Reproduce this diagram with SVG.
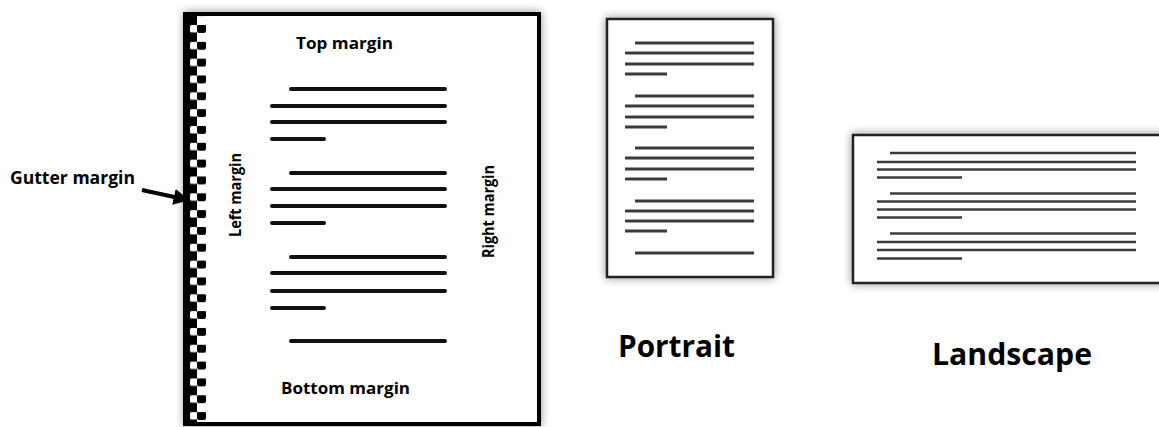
<svg xmlns="http://www.w3.org/2000/svg" width="1159" height="427" viewBox="0 0 1159 427">
<style>
  .lbl { font-family: "Open Sans", "Liberation Sans", sans-serif; font-weight: bold; fill: #000; }
  .ml { stroke: #111; stroke-width: 4; stroke-linecap: round; fill: none; }
  .pl { stroke: #3a3a3a; stroke-width: 3; stroke-linecap: butt; fill: none; }
  .ll { stroke: #3a3a3a; stroke-width: 2.6; stroke-linecap: butt; fill: none; }
  .conn { stroke: #000; stroke-width: 4; fill: none; }
</style>
<defs>
  <filter id="shadow" x="-10%" y="-10%" width="120%" height="120%">
    <feGaussianBlur in="SourceAlpha" stdDeviation="5"/>
    <feComponentTransfer><feFuncA type="linear" slope="0.45"/></feComponentTransfer>
    <feMerge><feMergeNode/><feMergeNode in="SourceGraphic"/></feMerge>
  </filter>
  <pattern id="gutter" x="0" y="25" width="30" height="16.83" patternUnits="userSpaceOnUse">
    <rect x="10" y="0" width="7.5" height="7.5" rx="1.5" fill="#fff"/>
    <rect x="17" y="-0.5" width="9" height="8.5" rx="2" fill="#000"/>
  </pattern>
  <marker id="ah" viewBox="0 0 10 10" refX="9" refY="5" markerWidth="4" markerHeight="4" orient="auto" markerUnits="strokeWidth">
    <path d="M0,0 L10,5 L0,10 Z" fill="#000"/>
  </marker>
</defs>
<rect width="1159" height="427" fill="#fff"/>

<g id="main-page">
  <rect x="186" y="14" width="353" height="410" fill="#fff" stroke="#000" stroke-width="4" filter="url(#shadow)"/>
  <rect x="183" y="12" width="14" height="414" fill="#000"/>
  <rect x="180" y="16" width="30" height="406" fill="url(#gutter)"/>
  <line class="ml" x1="291" y1="89" x2="445" y2="89"/>
  <line class="ml" x1="272" y1="106" x2="445" y2="106"/>
  <line class="ml" x1="272" y1="122" x2="445" y2="122"/>
  <line class="ml" x1="272" y1="139" x2="324" y2="139"/>
  <line class="ml" x1="291" y1="173" x2="445" y2="173"/>
  <line class="ml" x1="272" y1="189" x2="445" y2="189"/>
  <line class="ml" x1="272" y1="206" x2="445" y2="206"/>
  <line class="ml" x1="272" y1="223" x2="324" y2="223"/>
  <line class="ml" x1="291" y1="257" x2="445" y2="257"/>
  <line class="ml" x1="272" y1="273" x2="445" y2="273"/>
  <line class="ml" x1="272" y1="291" x2="445" y2="291"/>
  <line class="ml" x1="272" y1="308" x2="324" y2="308"/>
  <line class="ml" x1="291" y1="341" x2="445" y2="341"/>
  <text class="lbl" x="296" y="49" font-size="16.5" textLength="97" lengthAdjust="spacingAndGlyphs">Top margin</text>
  <text class="lbl" x="281" y="394" font-size="16.5" textLength="129" lengthAdjust="spacingAndGlyphs">Bottom margin</text>
  <text class="lbl" font-size="15.5" transform="translate(241 237) rotate(-90)" textLength="84" lengthAdjust="spacingAndGlyphs">Left margin</text>
  <text class="lbl" font-size="15.5" transform="translate(494 258) rotate(-90)" textLength="93" lengthAdjust="spacingAndGlyphs">Right margin</text>
</g>

<g id="gutter-label">
  <text class="lbl" x="10" y="184" font-size="17" textLength="125" lengthAdjust="spacingAndGlyphs">Gutter margin</text>
</g>

<g id="connectors">
  <line class="conn" x1="142" y1="190" x2="188" y2="200" marker-end="url(#ah)"/>
</g>

<g id="portrait-page">
  <rect x="607" y="19" width="166" height="258" fill="#fff" stroke="#222" stroke-width="2.5" filter="url(#shadow)"/>
  <line class="pl" x1="635" y1="43" x2="754" y2="43" stroke="#666"/>
  <line class="pl" x1="625" y1="53" x2="754" y2="53"/>
  <line class="pl" x1="625" y1="64" x2="754" y2="64"/>
  <line class="pl" x1="625" y1="74" x2="667" y2="74" stroke="#666"/>
  <line class="pl" x1="635" y1="96" x2="754" y2="96"/>
  <line class="pl" x1="625" y1="106" x2="754" y2="106" stroke="#666"/>
  <line class="pl" x1="625" y1="117" x2="754" y2="117"/>
  <line class="pl" x1="625" y1="127" x2="667" y2="127" stroke="#666"/>
  <line class="pl" x1="635" y1="148" x2="754" y2="148"/>
  <line class="pl" x1="625" y1="158" x2="754" y2="158" stroke="#666"/>
  <line class="pl" x1="625" y1="169" x2="754" y2="169" stroke="#666"/>
  <line class="pl" x1="625" y1="179" x2="667" y2="179"/>
  <line class="pl" x1="635" y1="201" x2="754" y2="201" stroke="#666"/>
  <line class="pl" x1="625" y1="211" x2="754" y2="211"/>
  <line class="pl" x1="625" y1="221" x2="754" y2="221" stroke="#666"/>
  <line class="pl" x1="625" y1="231" x2="667" y2="231"/>
  <line class="pl" x1="635" y1="253" x2="754" y2="253" stroke="#666"/>
  <text class="lbl" x="618" y="357" font-size="30" textLength="117" lengthAdjust="spacingAndGlyphs">Portrait</text>
</g>

<g id="landscape-page">
  <rect x="853" y="135" width="330" height="148" fill="#fff" stroke="#222" stroke-width="2.5" filter="url(#shadow)"/>
  <line class="ll" x1="890" y1="153" x2="1136" y2="153"/>
  <line class="ll" x1="877" y1="162" x2="1136" y2="162"/>
  <line class="ll" x1="877" y1="169.5" x2="1136" y2="169.5" stroke="#666"/>
  <line class="ll" x1="877" y1="177.5" x2="962" y2="177.5"/>
  <line class="ll" x1="890" y1="193.5" x2="1136" y2="193.5"/>
  <line class="ll" x1="877" y1="201.5" x2="1136" y2="201.5"/>
  <line class="ll" x1="877" y1="209.5" x2="1136" y2="209.5" stroke="#666"/>
  <line class="ll" x1="877" y1="217.5" x2="962" y2="217.5"/>
  <line class="ll" x1="890" y1="233.5" x2="1136" y2="233.5"/>
  <line class="ll" x1="877" y1="242" x2="1136" y2="242" stroke="#666"/>
  <line class="ll" x1="877" y1="250" x2="1136" y2="250" stroke="#666"/>
  <line class="ll" x1="877" y1="258.5" x2="962" y2="258.5"/>
  <text class="lbl" x="932" y="365" font-size="30" textLength="160" lengthAdjust="spacingAndGlyphs">Landscape</text>
</g>
</svg>
